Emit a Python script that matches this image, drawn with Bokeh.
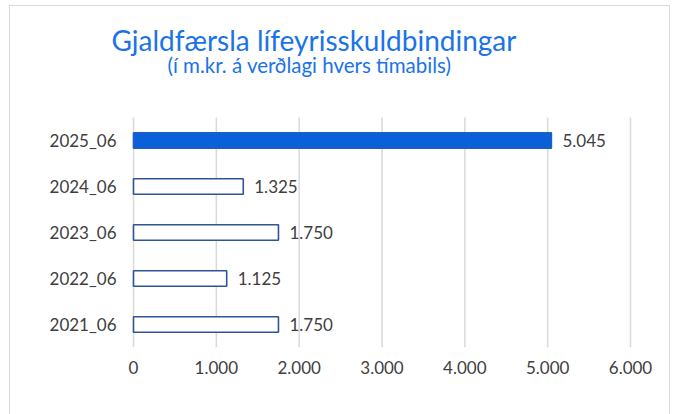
from bokeh.plotting import figure
from bokeh.models import Range1d, ColumnDataSource, FixedTicker
from bokeh.core.properties import value
from bokeh.embed import file_html
from bokeh.resources import INLINE

categories = ["2021_06", "2022_06", "2023_06", "2024_06", "2025_06"]
values = [1750, 1125, 1750, 1325, 5045]
x_ticks = [0, 1000, 2000, 3000, 4000, 5000, 6000]
x_tick_labels = ["0", "1.000", "2.000", "3.000", "4.000", "5.000", "6.000"]
title_text = "Gjaldfærsla lífeyrisskuldbindingar"
subtitle_text = "(í m.kr. á verðlagi hvers tímabils)"

FONT = "Lato"
TEXT_COLOR = "#404040"
BLUE = "#1a73e8"

fills = ["white", "white", "white", "white", "#0a60d8"]
lines = ["#2f5597", "#2f5597", "#2f5597", "#2f5597", "#1f5fc0"]
labels = [f"{v:,}".replace(",", ".") for v in values]
ypos = [i + 0.5 for i in range(len(categories))]
n = len(categories)

src = ColumnDataSource(dict(cat=categories, y=ypos, val=values, fill=fills, line=lines,
                            lab=labels, zero=[0] * n))

p = figure(width=661, height=409, x_range=Range1d(-1485, 6495), y_range=Range1d(0, 7.413),
           output_backend="svg", toolbar_location=None, y_axis_location=None,
           min_border_left=0, min_border_right=0, min_border_top=0, min_border_bottom=68)
p.styles = {"margin-left": "9px", "margin-top": "5px",
            "border-top": "1px solid #d9d9d9", "border-left": "1px solid #d9d9d9",
            "border-right": "1px solid #d9d9d9"}
p.outline_line_color = None
p.background_fill_color = "white"
p.border_fill_color = "white"
p.xgrid.grid_line_color = None
p.ygrid.grid_line_color = None

# vertical gridlines over the bar area only
p.segment(x0=x_ticks, y0=[0] * len(x_ticks), x1=x_ticks, y1=[n] * len(x_ticks),
          line_color="#d9d9d9", line_width=1.5)

p.hbar(y="y", right="val", left=0, height=0.34, source=src,
       fill_color="fill", line_color="line", line_width=1.6)
p.text(x="val", y="y", text="lab", source=src, x_offset=11, text_baseline="middle",
       text_font=value(FONT), text_font_size="17px", text_color=TEXT_COLOR)
# category labels
p.text(x="zero", y="y", text="cat", source=src, x_offset=-17, text_align="right",
       text_baseline="middle", text_font=value(FONT), text_font_size="17px",
       text_color=TEXT_COLOR)

# titles
p.text(x=[-266], y=[6.68], text=[title_text], text_align="left", text_baseline="middle",
       text_font=value(FONT), text_font_size="28px", text_color=BLUE)
p.text(x=[410], y=[6.15], text=[subtitle_text], text_align="left", text_baseline="middle",
       text_font=value(FONT), text_font_size="20.5px", text_color=BLUE)

p.xaxis.ticker = FixedTicker(ticks=x_ticks)
p.xaxis.major_label_overrides = {t: l for t, l in zip(x_ticks, x_tick_labels)}
ax = p.xaxis[0]
ax.axis_line_color = None
ax.major_tick_line_color = None
ax.minor_tick_line_color = None
ax.major_tick_out = 0
ax.major_tick_in = 0
ax.major_label_text_font = FONT
ax.major_label_text_font_size = "17px"
ax.major_label_text_color = TEXT_COLOR
ax.major_label_standoff = 13

open("out.html", "w").write(file_html(p, INLINE))
